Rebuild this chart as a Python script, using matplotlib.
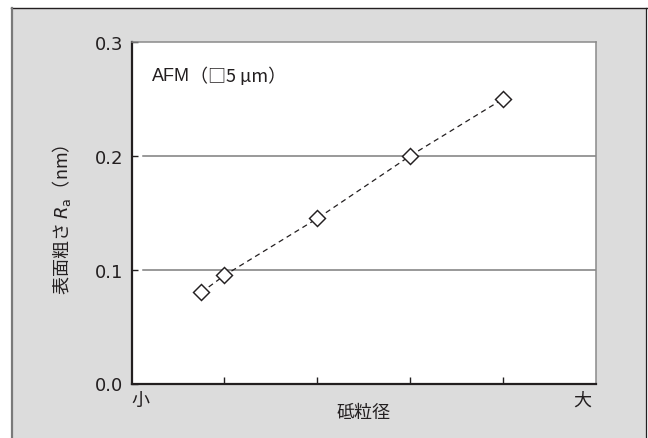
import matplotlib
matplotlib.use("Agg")
import matplotlib.pyplot as plt
from matplotlib.patches import Rectangle
from matplotlib.lines import Line2D

plt.rcParams['font.family'] = ['Noto Sans CJK JP', 'DejaVu Sans']
plt.rcParams['mathtext.fontset'] = 'dejavusans'

# Abrasive grain size (relative position) vs. surface roughness Ra
grain_pos = [0.75, 1.0, 2.0, 3.0, 4.0]
roughness_nm = [0.080, 0.095, 0.145, 0.200, 0.250]
y_ticks = [0.0, 0.1, 0.2, 0.3]
y_tick_labels = ["0.0", "0.1", "0.2", "0.3"]
x_ticks = [1, 2, 3, 4]
x_end_labels = ["小", "大"]

DARK = "#231f20"
LATIN = ['DejaVu Sans', 'Noto Sans CJK JP']

W, H = 648, 439
fig = plt.figure(figsize=(W / 100, H / 100), dpi=100, facecolor="white")

# grey panel with its frame
fig.patches.append(Rectangle((12 / W, 0), (646 - 12) / W, 1 - 9 / H,
                             transform=fig.transFigure, facecolor="#dcdcdc",
                             edgecolor="none", zorder=-10))
fig.lines.append(Line2D([11 / W, 646.5 / W], [1 - 8.5 / H, 1 - 8.5 / H],
                        transform=fig.transFigure, color=DARK, lw=1.0, zorder=-5))
fig.lines.append(Line2D([11.5 / W, 11.5 / W], [0, 1 - 8.5 / H],
                        transform=fig.transFigure, color="#7a7a7a", lw=1.6, zorder=-5))
fig.lines.append(Line2D([646 / W, 646 / W], [0, 1 - 8.5 / H],
                        transform=fig.transFigure, color=DARK, lw=0.9, zorder=-5))

ax_l, ax_r, ax_t, ax_b = 131.6, 596.0, 43.0, 384.5
ax = fig.add_axes([ax_l / W, 1 - ax_b / H, (ax_r - ax_l) / W, (ax_b - ax_t) / H])
ax.set_zorder(1)
ax.set_facecolor("white")
ax.set_xlim(0, 5)
ax.set_ylim(0, 0.3)

for y in y_ticks[1:3]:
    ax.axhline(y, xmin=0.024, xmax=1, color="#7d7d7d", lw=1.1, zorder=1)

ax.plot(grain_pos, roughness_nm, linestyle=(0, (4.2, 3.2)), color=DARK, lw=0.9,
        marker="D", markersize=7.8, markerfacecolor="white",
        markeredgecolor=DARK, markeredgewidth=1.05, zorder=3)

for side in ("left", "bottom"):
    ax.spines[side].set_color(DARK)
    ax.spines[side].set_linewidth(1.6)
for side in ("top", "right"):
    ax.spines[side].set_color("#8a8a8a")
    ax.spines[side].set_linewidth(1.1)

ax.set_yticks(y_ticks)
ax.set_yticklabels(y_tick_labels, family=LATIN)
ax.tick_params(axis="y", direction="in", length=4.5, width=1.0, color=DARK,
               labelsize=13, labelcolor=DARK, pad=6)
ax.set_xticks(x_ticks)
ax.set_xticklabels([])
ax.tick_params(axis="x", direction="in", length=5, width=1.0, color=DARK)

xt = ax.get_xaxis_transform()
ax.text(0.1, -0.048, x_end_labels[0], transform=xt, ha="center", va="center",
        fontsize=13, color=DARK)
ax.text(4.85, -0.048, x_end_labels[1], transform=xt, ha="center", va="center",
        fontsize=13, color=DARK)

ax.set_xlabel("砥粒径", fontsize=13, color=DARK, va="center")
ax.xaxis.set_label_coords(0.5, -0.0835)
ax.set_ylabel("表面粗さ $R_{\\mathrm{a}}$（nm）", fontsize=13, color=DARK,
              va="center")
ax.yaxis.set_label_coords(-0.1505, 0.482)

# measurement note: "AFM" in a Helvetica-like face, the rest in the CJK face
t_afm = ax.text(0.043, 0.901, "AFM", transform=ax.transAxes, ha="left",
                va="center", fontsize=13, color=DARK, family="Liberation Sans")
ax.annotate("（□5 µm）", xy=(1.0, 0.5), xycoords=t_afm, ha="left", va="center",
            fontsize=13, color=DARK, family=['Noto Sans CJK JP', 'DejaVu Sans'])

fig.savefig("out.png", dpi=100, facecolor="white")
